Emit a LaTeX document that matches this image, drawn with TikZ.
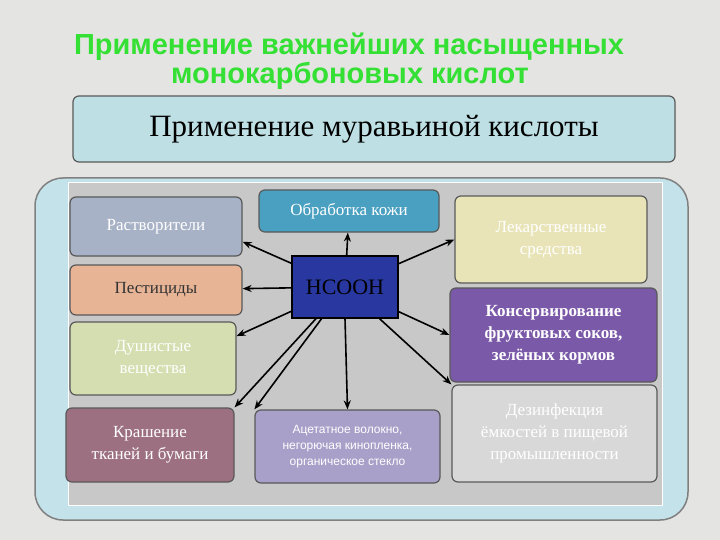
\documentclass[tikz,border=0pt]{standalone}
\usepackage{fontspec}
\setmainfont{Liberation Serif}
\newfontfamily\titlefont{Liberation Sans}
\usetikzlibrary{arrows.meta}
\definecolor{bg}{HTML}{E4E4E2}
\definecolor{tgreen}{HTML}{33E033}
\begin{document}
\begin{tikzpicture}[x=1pt,y=-1pt,
  box/.style={draw=gray!70!black,line width=1.2pt,rounded corners=6pt,align=center,inner sep=2pt,font=\fontsize{17}{22}\selectfont},
  ttl/.style={font=\titlefont\bfseries\fontsize{29}{32}\selectfont,text=tgreen},
  arr/.style={-{Stealth[length=9pt,width=7pt]},line width=1.6pt,black}]
\fill[bg] (0,0) rectangle (720,540);
\useasboundingbox (0,0) rectangle (720,540);
\node[ttl] (t1) at (349,47) {Применение важнейших насыщенных};
\node[ttl] (t2) at (350,76) {монокарбоновых кислот};
\node[box,fill={rgb,255:red,190;green,224;blue,228},minimum width=602,minimum height=66,font=\fontsize{31}{34}\selectfont] (hdr) at (374,129) {Применение муравьиной кислоты};
\node[draw=gray,line width=1.5pt,rounded corners=28pt,fill={rgb,255:red,196;green,226;blue,234},minimum width=653,minimum height=342] (outer) at (361.5,349) {};
\node[fill={rgb,255:red,200;green,200;blue,200},draw=white,minimum width=594,minimum height=323] (inner) at (365,343.5) {};
\node[box,fill={rgb,255:red,168;green,178;blue,198},text=white,minimum width=172,minimum height=59] (a) at (156,226.5) {Растворители};
\node[box,fill={rgb,255:red,232;green,180;blue,150},text=black!80,minimum width=172,minimum height=50] (b) at (156,290) {Пестициды};
\node[box,fill={rgb,255:red,212;green,222;blue,176},text=white,minimum width=166,minimum height=73] (c) at (153,358.5) {Душистые\\вещества};
\node[box,fill={rgb,255:red,156;green,112;blue,128},text=white,minimum width=168,minimum height=74] (d) at (150,445) {Крашение\\тканей и бумаги};
\node[box,fill={rgb,255:red,74;green,160;blue,192},text=white,minimum width=180,minimum height=42] (e) at (349,211) {Обработка кожи};
\node[draw=black,line width=1.2pt,fill={rgb,255:red,40;green,56;blue,160},minimum width=106,minimum height=62,font=\fontsize{22}{26}\selectfont] (h) at (345,287) {HCOOH};
\node[box,fill={rgb,255:red,168;green,160;blue,200},text=white,minimum width=185,minimum height=73,font=\titlefont\fontsize{12}{16}\selectfont] (f) at (347.5,446.5) {Ацетатное волокно,\\негорючая кинопленка,\\органическое стекло};
\node[box,fill={rgb,255:red,232;green,228;blue,184},text=white,minimum width=192,minimum height=87] (g) at (551,239.5) {Лекарственные\\средства};
\node[box,fill={rgb,255:red,122;green,90;blue,168},text=white,minimum width=207,minimum height=94,font=\bfseries\fontsize{17}{22}\selectfont] (k) at (553.5,335) {Консервирование\\фруктовых соков,\\зелёных кормов};
\node[box,fill={rgb,255:red,216;green,216;blue,216},text=white,minimum width=205,minimum height=97] (m) at (554.5,433.5) {Дезинфекция\\ёмкостей в пищевой\\промышленности};
\draw[arr] (h) -- (e);
\draw[arr] (h) -- (a.-10);
\draw[arr] (h) -- (b);
\draw[arr] (h) -- (c.15);
\draw[arr] (h) -- (d.north east);
\draw[arr] (h.south) -- (f.north);
\draw[arr] (h) -- (f.north west);
\draw[arr] (h) -- (g.west);
\draw[arr] (h) -- (k.west);
\draw[arr] (h) -- (m.north west);
\end{tikzpicture}
\end{document}
